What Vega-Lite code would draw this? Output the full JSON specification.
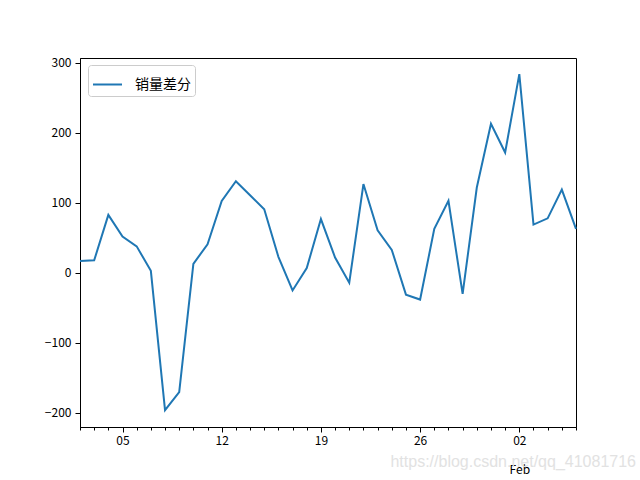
{
  "$schema": "https://vega.github.io/schema/vega-lite/v6.json",
  "width": 496,
  "height": 369,
  "autosize": {"type": "none"},
  "padding": {"left": 80, "top": 58, "right": 64, "bottom": 53},
  "background": "white",
  "config": {
    "view": {"stroke": "black", "strokeWidth": 1},
    "axis": {"grid": false, "domainColor": "black", "tickColor": "black", "labelColor": "black", "labelFont": "Noto Sans CJK SC", "labelFontSize": 12, "domainWidth": 1, "tickWidth": 1}
  },
  "title": {
    "text": "https://blog.csdn.net/qq_41081716",
    "orient": "bottom",
    "anchor": "end",
    "dx": 56,
    "offset": -21,
    "color": "#e2e2e2",
    "font": "Liberation Sans",
    "fontSize": 16,
    "fontWeight": "normal"
  },
  "data": {
    "values": [
      {"date": "2015/01/02", "v": 17, "s": "销量差分"},
      {"date": "2015/01/03", "v": 18, "s": "销量差分"},
      {"date": "2015/01/04", "v": 83, "s": "销量差分"},
      {"date": "2015/01/05", "v": 52, "s": "销量差分"},
      {"date": "2015/01/06", "v": 38, "s": "销量差分"},
      {"date": "2015/01/07", "v": 3, "s": "销量差分"},
      {"date": "2015/01/08", "v": -196, "s": "销量差分"},
      {"date": "2015/01/09", "v": -170, "s": "销量差分"},
      {"date": "2015/01/10", "v": 13, "s": "销量差分"},
      {"date": "2015/01/11", "v": 41, "s": "销量差分"},
      {"date": "2015/01/12", "v": 103, "s": "销量差分"},
      {"date": "2015/01/13", "v": 131, "s": "销量差分"},
      {"date": "2015/01/14", "v": 111, "s": "销量差分"},
      {"date": "2015/01/15", "v": 91, "s": "销量差分"},
      {"date": "2015/01/16", "v": 23, "s": "销量差分"},
      {"date": "2015/01/17", "v": -25, "s": "销量差分"},
      {"date": "2015/01/18", "v": 7, "s": "销量差分"},
      {"date": "2015/01/19", "v": 77, "s": "销量差分"},
      {"date": "2015/01/20", "v": 22, "s": "销量差分"},
      {"date": "2015/01/21", "v": -14, "s": "销量差分"},
      {"date": "2015/01/22", "v": 127, "s": "销量差分"},
      {"date": "2015/01/23", "v": 61, "s": "销量差分"},
      {"date": "2015/01/24", "v": 33, "s": "销量差分"},
      {"date": "2015/01/25", "v": -31, "s": "销量差分"},
      {"date": "2015/01/26", "v": -38, "s": "销量差分"},
      {"date": "2015/01/27", "v": 63, "s": "销量差分"},
      {"date": "2015/01/28", "v": 103, "s": "销量差分"},
      {"date": "2015/01/29", "v": -30, "s": "销量差分"},
      {"date": "2015/01/30", "v": 122, "s": "销量差分"},
      {"date": "2015/01/31", "v": 213, "s": "销量差分"},
      {"date": "2015/02/01", "v": 172, "s": "销量差分"},
      {"date": "2015/02/02", "v": 284, "s": "销量差分"},
      {"date": "2015/02/03", "v": 69, "s": "销量差分"},
      {"date": "2015/02/04", "v": 78, "s": "销量差分"},
      {"date": "2015/02/05", "v": 119, "s": "销量差分"},
      {"date": "2015/02/06", "v": 63, "s": "销量差分"}
    ]
  },
  "mark": {"type": "line", "strokeWidth": 2},
  "encoding": {
    "x": {
      "field": "date",
      "type": "temporal",
      "scale": {"nice": false},
      "axis": {
        "title": null,
        "tickCount": {"interval": "day", "step": 1},
        "tickSize": {"condition": {"test": "day(datum.value) == 1", "value": 5}, "value": 3},
        "labelExpr": "day(datum.value) == 1 ? ((month(datum.value) == 1 && date(datum.value) <= 7) ? [timeFormat(datum.value, '%d'), 'Feb'] : timeFormat(datum.value, '%d')) : ''",
        "labelPadding": 3,
        "labelLineHeight": 29,
        "labelOverlap": false,
        "labelFlush": false
      }
    },
    "y": {
      "field": "v",
      "type": "quantitative",
      "scale": {"domain": [-220, 307], "nice": false, "zero": false},
      "axis": {
        "title": null,
        "values": [-200, -100, 0, 100, 200, 300],
        "tickSize": 5,
        "labelPadding": 4
      }
    },
    "color": {
      "field": "s",
      "type": "nominal",
      "scale": {"range": ["#1f77b4"]},
      "legend": {
        "title": null,
        "orient": "none",
        "legendX": 8,
        "legendY": 7,
        "padding": 4,
        "fillColor": "white",
        "strokeColor": "#cccccc",
        "cornerRadius": 3,
        "symbolType": "stroke",
        "symbolSize": 841,
        "symbolStrokeWidth": 2,
        "labelOffset": 12,
        "labelFont": "Noto Sans CJK SC",
        "labelFontSize": 14,
        "labelColor": "black"
      }
    }
  }
}
